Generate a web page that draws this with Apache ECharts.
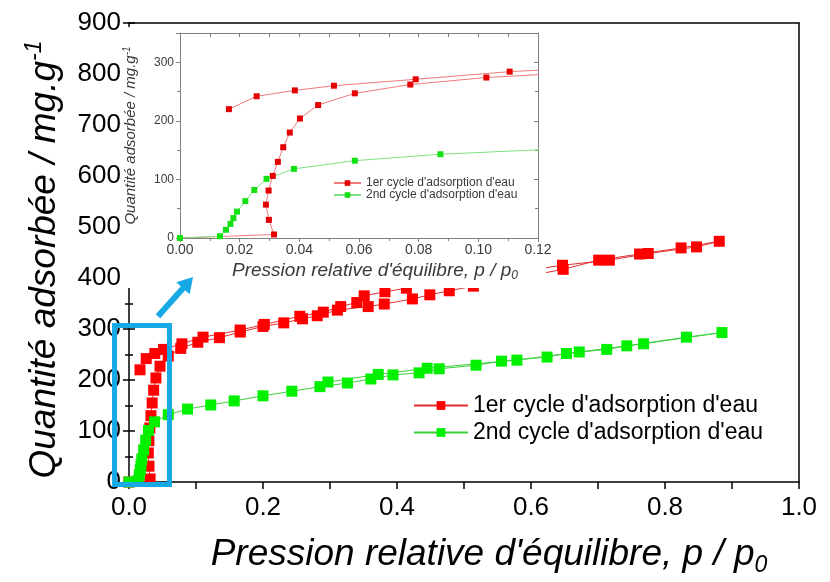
<!DOCTYPE html>
<html>
<head>
<meta charset="utf-8">
<script src="https://cdn.jsdelivr.net/npm/echarts@6/dist/echarts.min.js"></script>
<style>html,body{margin:0;padding:0;background:#fff}#c{width:830px;height:582px}</style>
</head>
<body>
<div id="c"></div>
<script>
// ---------------- DATA ----------------
const seriesNames = ["1er cycle d'adsorption d'eau", "2nd cycle d'adsorption d'eau"];

// 1er cycle : adsorption (montée)
const cycle1Adsorption = [
  [0.000, 0], [0.0315, 6], [0.0298, 31], [0.0288, 57], [0.0297, 81], [0.0311, 106],
  [0.0328, 130], [0.0346, 155], [0.0368, 180], [0.0402, 204], [0.0463, 227], [0.0586, 247],
  [0.0772, 262], [0.1027, 274], [0.135, 283], [0.166, 294], [0.200, 305], [0.231, 312],
  [0.259, 320], [0.281, 326], [0.311, 337], [0.357, 344], [0.381, 349], [0.423, 359],
  [0.449, 367], [0.478, 375], [0.514, 384], [0.648, 417], [0.701, 435], [0.762, 447],
  [0.824, 459], [0.881, 472]
];
// 1er cycle : désorption (retour)
const cycle1Desorption = [
  [0.847, 461], [0.775, 448], [0.717, 435], [0.647, 425], [0.414, 380], [0.382, 373],
  [0.351, 365], [0.340, 352], [0.316, 344], [0.290, 333], [0.255, 325], [0.202, 309],
  [0.166, 298], [0.1105, 284], [0.079, 271], [0.0516, 260], [0.0385, 252], [0.0257, 242],
  [0.0164, 220]
];
// 2nd cycle : adsorption
const cycle2Adsorption = [
  [0.000, 0], [0.0134, 3], [0.0154, 14], [0.0169, 24], [0.0179, 34], [0.0191, 45],
  [0.0219, 63], [0.0249, 82], [0.0290, 101], [0.0382, 118], [0.0586, 132], [0.0873, 143],
  [0.122, 151], [0.157, 159], [0.200, 169], [0.243, 178], [0.285, 187], [0.326, 194],
  [0.361, 202], [0.394, 210], [0.433, 214], [0.463, 222], [0.518, 229], [0.556, 237],
  [0.624, 245], [0.653, 252], [0.713, 260], [0.743, 267], [0.832, 284], [0.885, 293]
];
// 2nd cycle : désorption
const cycle2Desorption = [
  [0.768, 271], [0.672, 255], [0.579, 239], [0.445, 223], [0.372, 211], [0.297, 196]
];

// axis ranges
const mainXRange = [0, 1.0], mainXStep = 0.2;
const mainYRange = [0, 900], mainYStep = 100;
const insetXRange = [0, 0.12], insetXStep = 0.02;
const insetYRange = [0, 350], insetYStep = 100;
// zoomed region marked on the main plot (main-axis values)
const zoomBoxX = [-0.0216, 0.0604];
const zoomBoxY = [-5, 307];
const arrowFrom = [0.0433, 325];
const arrowTo = [0.0955, 402];

// ---------------- STYLE ----------------
const FONT = "'Liberation Sans', Arial, Helvetica, sans-serif";
const RED_MARK = '#ff0000', RED_LINE = '#e03030';
const GREEN_MARK = '#00f000', GREEN_LINE = '#3ccf3c';
const IN_RED_MARK = '#e40000', IN_RED_LINE = '#f07a7a';
const IN_GREEN_MARK = '#14e014', IN_GREEN_LINE = '#7ee07e';
const BLUE = '#17a9e6';
const INSET_AXIS = '#808080';
const INSET_TEXT = '#3a3a3a';

const cycle1 = cycle1Adsorption.concat(cycle1Desorption);
const cycle2 = cycle2Adsorption.concat(cycle2Desorption);
const insetSuffix = ' (encart)';

const chart = echarts.init(document.getElementById('c'), null, {renderer: 'canvas', width: 830, height: 582});

function mainLine(name, data, mark, line) {
  return {
    type: 'line', name: name, data: data, xAxisIndex: 0, yAxisIndex: 0,
    symbol: 'rect', symbolSize: 11, showSymbol: true,
    itemStyle: {color: mark}, lineStyle: {color: line, width: 1},
    emphasis: {disabled: true}, z: 2, animation: false
  };
}
function insetLine(name, data, mark, line) {
  return {
    type: 'line', name: name + insetSuffix, data: data, xAxisIndex: 2, yAxisIndex: 3,
    symbol: 'rect', symbolSize: 6, showSymbol: true, clip: true,
    itemStyle: {color: mark}, lineStyle: {color: line, width: 1},
    emphasis: {disabled: true}, z: 12, animation: false
  };
}

const blackLine = {color: '#000', width: 1.5};
const grayLine = {color: INSET_AXIS, width: 1};

const option = {
  backgroundColor: '#ffffff',
  animation: false,
  textStyle: {fontFamily: FONT},
  grid: [
    {left: 129, right: 31, top: 23, bottom: 100, outerBoundsMode: 'none', containLabel: false},
    {left: 180, right: 292, top: 33, bottom: 344, outerBoundsMode: 'none', containLabel: false, z: 11}
  ],
  xAxis: [
    { // main bottom
      gridIndex: 0, type: 'value', min: mainXRange[0], max: mainXRange[1], interval: mainXStep, position: 'bottom',
      axisLine: {show: true, onZero: false, lineStyle: blackLine},
      axisTick: {show: true, inside: false, length: 7, lineStyle: blackLine},
      minorTick: {show: true, splitNumber: 2, length: 7, lineStyle: blackLine},
      splitLine: {show: false}, minorSplitLine: {show: false},
      axisLabel: {fontSize: 26, color: '#000', fontFamily: FONT, margin: 13, formatter: v => v.toFixed(1)},
      name: "{t|Pression relative d'équilibre, p / p}{s|0}",
      nameLocation: 'middle', nameGap: 51, nameMoveOverlap: false,
      nameTextStyle: {
        fontFamily: FONT, fontSize: 37, fontStyle: 'italic', color: '#000', padding: [0, 0, 0, 50],
        rich: {
          t: {fontFamily: FONT, fontSize: 37, fontStyle: 'italic', color: '#000', lineHeight: 44},
          s: {fontFamily: FONT, fontSize: 23, fontStyle: 'italic', color: '#000', lineHeight: 17, verticalAlign: 'bottom'}
        }
      }
    },
    { // main top border
      gridIndex: 0, type: 'value', min: mainXRange[0], max: mainXRange[1], interval: mainXStep, position: 'top',
      axisLine: {show: true, onZero: false, lineStyle: blackLine},
      axisTick: {show: false}, axisLabel: {show: false}, splitLine: {show: false}
    },
    { // inset bottom
      gridIndex: 1, type: 'value', min: insetXRange[0], max: insetXRange[1], interval: insetXStep, position: 'bottom', z: 11,
      axisLine: {show: true, onZero: false, lineStyle: grayLine},
      axisTick: {show: true, inside: false, length: 4, lineStyle: grayLine},
      minorTick: {show: true, splitNumber: 2, length: 3, lineStyle: grayLine},
      splitLine: {show: false}, minorSplitLine: {show: false},
      axisLabel: {fontSize: 14, color: INSET_TEXT, fontFamily: FONT, margin: 5, formatter: v => v.toFixed(2)},
      name: "{t|Pression relative d'équilibre, p / p}{s|0}",
      nameLocation: 'middle', nameGap: 22, nameMoveOverlap: false,
      nameTextStyle: {
        fontFamily: FONT, fontSize: 19, fontStyle: 'italic', color: INSET_TEXT, padding: [0, 0, 0, 32],
        rich: {
          t: {fontFamily: FONT, fontSize: 19, fontStyle: 'italic', color: INSET_TEXT, lineHeight: 22},
          s: {fontFamily: FONT, fontSize: 12, fontStyle: 'italic', color: INSET_TEXT, lineHeight: 9, verticalAlign: 'bottom'}
        }
      }
    },
    { // inset top border
      gridIndex: 1, type: 'value', min: insetXRange[0], max: insetXRange[1], interval: insetXStep, position: 'top', z: 11,
      axisLine: {show: true, onZero: false, lineStyle: grayLine},
      axisTick: {show: true, inside: true, length: 4, lineStyle: grayLine},
      minorTick: {show: true, splitNumber: 2, length: 4, lineStyle: grayLine},
      axisLabel: {show: false}, splitLine: {show: false}, minorSplitLine: {show: false}
    }
  ],
  yAxis: [
    { // main left, outward ticks + labels
      gridIndex: 0, type: 'value', min: mainYRange[0], max: mainYRange[1], interval: mainYStep, position: 'left',
      axisLine: {show: true, onZero: false, lineStyle: blackLine},
      axisTick: {show: true, inside: false, length: 6, lineStyle: blackLine},
      minorTick: {show: true, splitNumber: 2, length: 4, lineStyle: blackLine},
      splitLine: {show: false}, minorSplitLine: {show: false},
      axisLabel: {fontSize: 26, color: '#000', fontFamily: FONT, margin: 8},
      name: '{t|Quantité adsorbée / mg.g}{u|-1}',
      nameLocation: 'middle', nameGap: 62, nameMoveOverlap: false,
      nameTextStyle: {
        fontFamily: FONT, fontSize: 37, fontStyle: 'italic', color: '#000', padding: [0, 14, 0, 0],
        rich: {
          t: {fontFamily: FONT, fontSize: 37, fontStyle: 'italic', color: '#000', lineHeight: 44},
          u: {fontFamily: FONT, fontSize: 23, fontStyle: 'italic', color: '#000', lineHeight: 17, verticalAlign: 'top'}
        }
      }
    },
    { // main left, inward half of crossing ticks
      gridIndex: 0, type: 'value', min: mainYRange[0], max: mainYRange[1], interval: mainYStep, position: 'left',
      axisLine: {show: false},
      axisTick: {show: true, inside: true, length: 6, lineStyle: blackLine},
      minorTick: {show: true, splitNumber: 2, length: 4, lineStyle: blackLine},
      axisLabel: {show: false}, splitLine: {show: false}, minorSplitLine: {show: false}
    },
    { // main right border
      gridIndex: 0, type: 'value', min: mainYRange[0], max: mainYRange[1], interval: mainYStep, position: 'right',
      axisLine: {show: true, onZero: false, lineStyle: blackLine},
      axisTick: {show: false}, axisLabel: {show: false}, splitLine: {show: false}
    },
    { // inset left
      gridIndex: 1, type: 'value', min: insetYRange[0], max: insetYRange[1], interval: insetYStep, position: 'left', z: 11,
      axisLine: {show: true, onZero: false, lineStyle: grayLine},
      axisTick: {show: true, inside: false, length: 4, lineStyle: grayLine},
      minorTick: {show: true, splitNumber: 2, length: 3, lineStyle: grayLine},
      splitLine: {show: false}, minorSplitLine: {show: false},
      axisLabel: {fontSize: 12, color: INSET_TEXT, fontFamily: FONT, margin: 6, showMaxLabel: false},
      name: '{t|Quantité adsorbée / mg.g}{u|-1}',
      nameLocation: 'middle', nameGap: 40, nameMoveOverlap: false,
      nameTextStyle: {
        fontFamily: FONT, fontSize: 15, fontStyle: 'italic', color: INSET_TEXT,
        rich: {
          t: {fontFamily: FONT, fontSize: 15, fontStyle: 'italic', color: INSET_TEXT, lineHeight: 18},
          u: {fontFamily: FONT, fontSize: 10, fontStyle: 'italic', color: INSET_TEXT, lineHeight: 8, verticalAlign: 'top'}
        }
      }
    },
    { // inset right border
      gridIndex: 1, type: 'value', min: insetYRange[0], max: insetYRange[1], interval: insetYStep, position: 'right', z: 11,
      axisLine: {show: true, onZero: false, lineStyle: grayLine},
      axisTick: {show: true, inside: true, length: 4, lineStyle: grayLine},
      minorTick: {show: true, splitNumber: 2, length: 3, lineStyle: grayLine},
      axisLabel: {show: false}, splitLine: {show: false}, minorSplitLine: {show: false}
    }
  ],
  legend: [
    {
      data: seriesNames, orient: 'vertical', left: 413, top: 393, padding: 0,
      itemWidth: 54, itemHeight: 11, itemGap: 2, selectedMode: false,
      textStyle: {fontFamily: FONT, fontSize: 23, color: '#000', lineHeight: 25}, z: 4
    },
    {
      data: seriesNames.map(n => n + insetSuffix), orient: 'vertical', left: 333, top: 177, padding: 0,
      itemWidth: 27, itemHeight: 7, itemGap: 0, selectedMode: false,
      formatter: n => n.replace(insetSuffix, ''),
      textStyle: {fontFamily: FONT, fontSize: 12, color: INSET_TEXT, lineHeight: 12}, z: 13
    }
  ],
  series: [
    mainLine(seriesNames[0], cycle1, RED_MARK, RED_LINE),
    mainLine(seriesNames[1], cycle2, GREEN_MARK, GREEN_LINE),
    insetLine(seriesNames[0], cycle1, IN_RED_MARK, IN_RED_LINE),
    insetLine(seriesNames[1], cycle2, IN_GREEN_MARK, IN_GREEN_LINE)
  ]
};
chart.setOption(option);

// annotations: white inset frame, blue zoom box and arrow
const tl = chart.convertToPixel({gridIndex: 0}, [zoomBoxX[0], zoomBoxY[1]]);
const br = chart.convertToPixel({gridIndex: 0}, [zoomBoxX[1], zoomBoxY[0]]);
const a0 = chart.convertToPixel({gridIndex: 0}, arrowFrom);
const a1 = chart.convertToPixel({gridIndex: 0}, arrowTo);
const dx = a1[0] - a0[0], dy = a1[1] - a0[1];
const len = Math.sqrt(dx * dx + dy * dy);
const ux = dx / len, uy = dy / len, px = -uy, py = ux;
const headLen = 15, headHalf = 9;
const base = [a1[0] - ux * headLen, a1[1] - uy * headLen];

chart.setOption({
  graphic: [
    {type: 'rect', id: 'insetFrame', z: 10, silent: true,
     shape: {x: 121, y: 27, width: 425, height: 261},
     style: {fill: '#ffffff', stroke: null}},
    {type: 'rect', id: 'zoomBox', z: 15, silent: true,
     shape: {x: tl[0], y: tl[1], width: br[0] - tl[0], height: br[1] - tl[1]},
     style: {fill: null, stroke: BLUE, lineWidth: 5}},
    {type: 'line', id: 'arrowShaft', z: 15, silent: true,
     shape: {x1: a0[0], y1: a0[1], x2: base[0] + ux * 2, y2: base[1] + uy * 2},
     style: {stroke: BLUE, lineWidth: 6}},
    {type: 'polygon', id: 'arrowHead', z: 15, silent: true,
     shape: {points: [a1, [base[0] + px * headHalf, base[1] + py * headHalf], [base[0] - px * headHalf, base[1] - py * headHalf]]},
     style: {fill: BLUE, stroke: null}}
  ]
});
</script>
</body>
</html>
